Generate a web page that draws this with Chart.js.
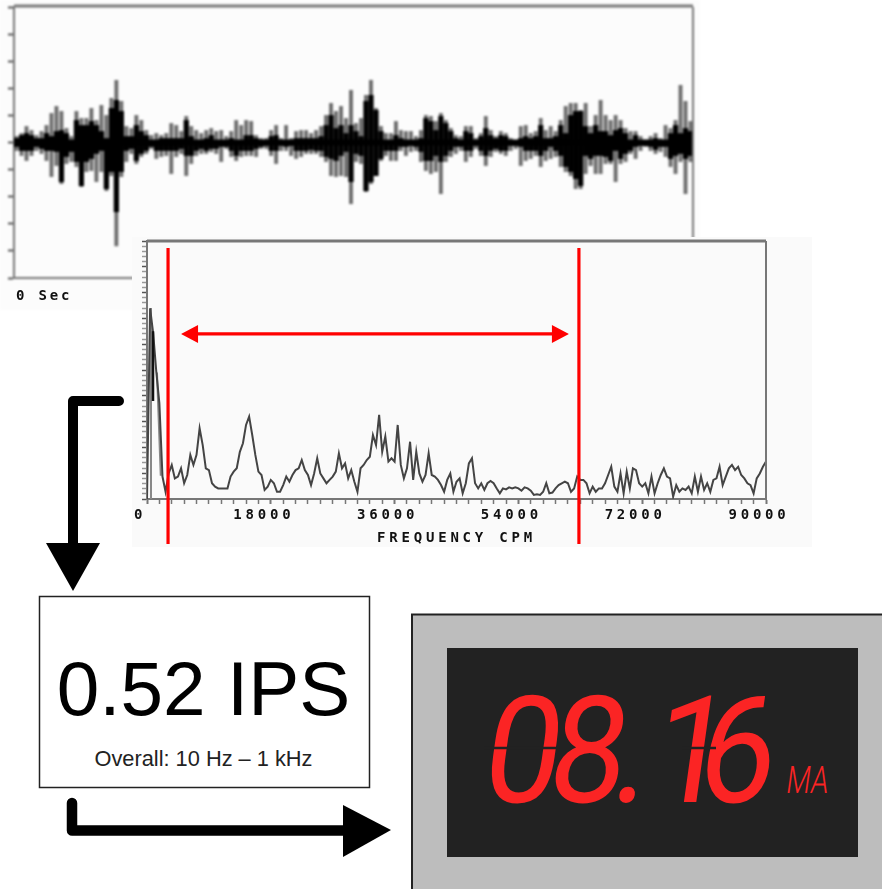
<!DOCTYPE html>
<html>
<head>
<meta charset="utf-8">
<title>Vibration overall to 4-20 mA</title>
<script src="https://cdn.jsdelivr.net/npm/chart.js@4/dist/chart.umd.min.js"></script>
<style>
  html, body { margin: 0; padding: 0; background: #fff; }
  #page { position: relative; width: 882px; height: 889px; overflow: hidden; }
  canvas { position: absolute; display: block; }
  #waveChart { left: 0; top: 0; background: #fcfcfc; filter: blur(0.9px); }
  #spectrumChart { left: 132px; top: 237px; background: #fafafa; filter: blur(0.7px); }
  svg { position: absolute; left: 0; top: 0; }
</style>
</head>
<body>
<div id="page">
  <canvas id="waveChart" width="700" height="310"></canvas>
  <canvas id="spectrumChart" width="680" height="310"></canvas>
  <svg width="882" height="889">
    <text x="16" y="300" font-family="DejaVu Sans Mono" font-weight="bold" font-size="14" letter-spacing="2.8" fill="#111" style="filter:blur(0.7px)">0 Sec</text>

    <path d="M119 401 H73 V548" fill="none" stroke="#000" stroke-width="10" stroke-linecap="round" stroke-linejoin="round"/>
    <polygon points="46,543 100,543 73,591" fill="#000"/>

    <rect x="39.5" y="596.5" width="330" height="191" fill="#fff" stroke="#222" stroke-width="1.5"/>
    <text x="203.5" y="715" text-anchor="middle" font-family="Liberation Sans" font-size="76.5" fill="#000">0.52 IPS</text>
    <text x="203.5" y="766" text-anchor="middle" font-family="Liberation Sans" font-size="21.8" fill="#222">Overall: 10 Hz – 1 kHz</text>

    <path d="M72 803 V830.5 H350" fill="none" stroke="#000" stroke-width="10.5" stroke-linecap="round" stroke-linejoin="round"/>
    <polygon points="343,805 391,830 343,857" fill="#000"/>

    <rect x="412" y="614.5" width="472" height="276" fill="#bdbdbd" stroke="#222" stroke-width="2"/>
    <rect x="447" y="648" width="411" height="209" fill="#222"/>
    <g transform="translate(0,802) skewX(-8) translate(112,0) scale(0.92,1)" fill="#fb2424" font-family="Roboto" font-size="149">
      <text x="399 470 540 582 632" y="0">08.16</text>
    </g>
    <path d="M484 748 H556 M682 748 H716" stroke="#222" stroke-width="2.5"/>
    <text transform="translate(785,793) skewX(-8)" font-family="Roboto" font-weight="300" font-size="38" textLength="42" lengthAdjust="spacingAndGlyphs" fill="#fb2424">MA</text>
  </svg>
</div>
<script>
// Time waveform, every few pixels (outer spikes and dark core)
const waveTopGrey = [6,9,16,12,7,11,17,29,36,31,14,6,31,24,24,34,22,37,27,44,62,41,16,14,27,22,12,7,9,7,9,19,17,11,
  26,16,12,9,12,14,11,12,6,11,22,17,22,21,7,4,4,12,17,4,17,4,11,12,12,9,12,16,27,39,31,36,24,52,
  19,24,47,62,34,16,9,9,21,12,11,11,6,12,27,26,21,29,22,14,7,6,16,16,4,9,26,12,6,11,9,4,2,16,
  17,9,11,24,12,16,11,22,36,39,39,32,39,16,27,42,27,22,27,22,14,11,11,6,2,6,9,4,17,14,22,57,41,21];
const waveTopBlack = [4,7,9,7,4,4,9,6,11,12,9,2,22,17,17,21,17,11,4,34,42,31,6,6,17,11,7,2,2,4,4,4,4,4,
  22,6,2,2,4,7,2,2,1,4,2,2,7,7,4,2,1,6,7,2,2,2,4,4,4,4,4,6,17,27,14,17,9,17,
  11,6,41,47,32,11,2,2,7,4,2,1,2,4,24,21,12,26,19,11,4,2,11,9,2,6,14,7,4,7,6,2,1,4,
  6,4,6,17,4,4,6,17,9,27,31,31,16,9,17,11,11,7,12,14,9,2,7,2,1,2,4,2,2,9,17,9,14,11];
const waveBotBlack = [-4,-8,-8,-8,-4,-6,-8,-8,-9,-39,-14,-9,-19,-43,-19,-16,-11,-8,-46,-29,-69,-29,-8,-6,-18,-11,-8,-4,-8,-8,-8,-8,-8,-6,
  -13,-13,-8,-6,-8,-6,-6,-4,-4,-8,-13,-8,-8,-8,-6,-4,-3,-8,-8,-3,-4,-3,-8,-8,-8,-7,-8,-8,-14,-16,-18,-13,-9,-39,
  -11,-13,-48,-39,-33,-16,-8,-8,-8,-4,-4,-3,-4,-9,-18,-18,-13,-19,-13,-8,-4,-4,-8,-8,-3,-8,-13,-8,-6,-8,-8,-3,-3,-4,
  -8,-8,-8,-13,-8,-4,-8,-13,-24,-29,-36,-43,-13,-16,-13,-13,-14,-18,-8,-16,-11,-8,-4,-3,-3,-4,-7,-4,-4,-16,-13,-11,-16,-13];
const waveBotGrey = [-8,-13,-18,-13,-8,-11,-18,-34,-23,-41,-21,-19,-24,-44,-29,-28,-39,-29,-48,-33,-103,-34,-19,-11,-21,-14,-11,-6,-16,-14,-13,-31,-14,-11,
  -33,-21,-13,-11,-11,-9,-11,-19,-6,-14,-18,-14,-13,-13,-14,-6,-6,-13,-21,-8,-8,-13,-16,-14,-11,-11,-11,-14,-19,-33,-34,-33,-34,-61,
  -19,-21,-49,-41,-33,-18,-13,-18,-18,-8,-13,-9,-8,-19,-28,-31,-29,-51,-19,-14,-11,-8,-19,-14,-6,-13,-23,-14,-9,-11,-13,-8,-6,-23,
  -18,-16,-13,-24,-18,-16,-14,-24,-29,-33,-46,-46,-31,-23,-31,-31,-21,-21,-39,-21,-19,-11,-16,-8,-4,-8,-11,-9,-14,-24,-31,-19,-51,-19];
const waveSamples = waveTopGrey.map((v, i) => i);
const waveTickSample = 13;
const waveCoreLevel = 0;

// Spectrum amplitude every 450 CPM, from 0 to 90000
const spectrumStep = 450;
const spectrumAmp = [0,73.9,64.2,49.4,37.1,8.7,2.8,9.9,13.2,8.0,
  8.7,11.9,6.1,9.3,17.1,13.2,17.1,27.4,20.9,11.9,
  11.2,6.1,4.8,4.1,4.1,4.1,4.1,8.7,10.6,11.9,
  18.3,21.6,28.7,31.9,24.8,17.1,10.6,9.3,3.5,4.8,
  7.4,6.1,2.8,2.8,5.4,8.7,6.7,9.3,11.2,11.9,
  15.1,11.2,9.3,5.4,9.9,15.8,9.9,8.0,6.1,7.4,
  8.7,10.6,17.7,11.9,13.8,8.0,11.2,6.7,2.8,11.9,
  13.2,15.1,16.4,24.8,20.9,32.6,18.3,24.2,14.5,15.8,
  14.5,28.7,13.2,8.0,11.9,22.2,7.4,18.3,9.9,6.7,
  9.3,17.7,9.3,8.7,7.4,5.4,2.8,7.4,9.9,2.8,
  6.7,8.0,2.2,6.1,13.8,15.8,6.1,4.1,6.1,3.5,
  6.1,7.0,6.1,4.1,2.2,4.1,3.7,4.5,4.1,4.5,
  4.1,3.2,4.5,4.1,3.2,1.6,1.8,1.6,2.8,6.1,
  2.2,2.5,4.1,5.4,6.1,6.7,6.1,2.8,4.1,8.7,
  7.4,7.4,6.1,2.2,4.8,2.8,4.1,4.1,6.1,9.3,
  12.5,4.8,2.8,9.9,2.2,10.6,4.1,11.9,11.2,6.1,
  4.8,6.1,2.2,8.7,2.2,6.1,9.3,11.9,8.7,8.0,
  0.9,5.4,2.8,4.1,3.5,4.8,2.2,8.7,2.8,8.7,
  3.5,6.1,2.8,7.4,8.0,12.5,5.4,8.7,11.9,13.2,
  11.2,12.5,9.3,8.0,6.1,5.4,2.2,8.0,9.9,12.5,
  14.5];
// Dark parts of the low frequency spike
const darkCpm = [874, 874, 1600, 1600];
const darkAmp = [65, 38, null, 19];
// Grey stems under the spike
const stemCpm = [580, 580, 1450, 1450, 2000, 2000];
const stemAmp = [74, 0, null, 49, 9, null];
const spectrumTicks = [0, 18000, 36000, 54000, 72000, 90000];
const bandLimits = [3060, 62800];
const bandArrowLevel = 64;

const axisGrey = '#777';

const wavePlugin = {
  id: 'waveFrame',
  afterDraw(chart) {
    const { ctx, chartArea: a } = chart;
    ctx.save();
    ctx.strokeStyle = axisGrey;
    ctx.lineWidth = 3;
    ctx.beginPath();
    ctx.moveTo(a.left, a.top - 1);
    ctx.lineTo(a.right, a.top - 1);
    ctx.stroke();
    ctx.lineWidth = 2;
    ctx.beginPath();
    ctx.moveTo(a.right, a.top);
    ctx.lineTo(a.right, a.bottom);
    ctx.stroke();
    ctx.restore();
  }
};

new Chart(document.getElementById('waveChart'), {
  type: 'bar',
  data: {
    labels: waveSamples,
    datasets: [
      { type: 'line', data: waveSamples.map(() => waveCoreLevel), borderColor: '#000', borderWidth: 6, pointRadius: 0 },
      { data: waveBotBlack.map((lo, i) => [lo, waveTopBlack[i]]), backgroundColor: '#000', barThickness: 4.6 },
      { data: waveBotGrey.map((lo, i) => [lo, waveTopGrey[i]]), backgroundColor: '#6c6c6c', barThickness: 3.2 }
    ]
  },
  options: {
    responsive: false,
    animation: false,
    layout: { padding: { top: 7, right: 7 } },
    plugins: { legend: { display: false }, tooltip: { enabled: false } },
    scales: {
      x: {
        afterBuildTicks: s => { s.ticks = s.ticks.filter(t => t.value === waveTickSample); },
        afterFit: s => { s.height = 32; },
        grid: { drawOnChartArea: false, tickLength: 5, tickColor: '#555', tickWidth: 2 },
        border: { color: axisGrey, width: 2 },
        ticks: { display: false }
      },
      y: {
        min: -135,
        max: 135,
        afterFit: s => { s.width = 14; },
        grid: { drawOnChartArea: false, tickLength: 6, tickColor: '#555', tickWidth: 2 },
        border: { color: axisGrey, width: 2 },
        ticks: { display: false, stepSize: 27 }
      }
    },
    datasets: { bar: { grouped: false } }
  },
  plugins: [wavePlugin]
});

const spectrumPlugin = {
  id: 'spectrumMarks',
  beforeDraw(chart) {
    chart.ctx.letterSpacing = '3.8px';
  },
  afterDraw(chart) {
    const { ctx, chartArea: a, scales } = chart;
    ctx.save();
    ctx.strokeStyle = axisGrey;
    ctx.lineWidth = 3;
    ctx.beginPath();
    ctx.moveTo(a.left, a.top);
    ctx.lineTo(a.right, a.top);
    ctx.stroke();
    ctx.lineWidth = 2;
    ctx.beginPath();
    ctx.moveTo(a.right, a.top);
    ctx.lineTo(a.right, a.bottom);
    ctx.stroke();

    // band limits and the arrow between them
    const x1 = scales.x.getPixelForValue(bandLimits[0]);
    const x2 = scales.x.getPixelForValue(bandLimits[1]);
    const yArrow = scales.y.getPixelForValue(bandArrowLevel);
    ctx.strokeStyle = '#f00';
    ctx.fillStyle = '#f00';
    ctx.lineWidth = 3.2;
    ctx.beginPath();
    ctx.moveTo(x1, 11);
    ctx.lineTo(x1, 307);
    ctx.moveTo(x2, 11);
    ctx.lineTo(x2, 307);
    ctx.moveTo(x1 + 25, yArrow);
    ctx.lineTo(x2 - 22, yArrow);
    ctx.stroke();
    ctx.beginPath();
    ctx.moveTo(x1 + 13, yArrow);
    ctx.lineTo(x1 + 30, yArrow - 9);
    ctx.lineTo(x1 + 30, yArrow + 9);
    ctx.closePath();
    ctx.moveTo(x2 - 10, yArrow);
    ctx.lineTo(x2 - 27, yArrow - 9);
    ctx.lineTo(x2 - 27, yArrow + 9);
    ctx.closePath();
    ctx.fill();
    ctx.restore();
  }
};

new Chart(document.getElementById('spectrumChart'), {
  type: 'line',
  data: {
    datasets: [
      {
        data: darkCpm.map((x, i) => ({ x, y: darkAmp[i] })),
        borderColor: '#111',
        borderWidth: 2.5,
        pointRadius: 0,
        spanGaps: false
      },
      {
        data: spectrumAmp.map((y, i) => ({ x: i * spectrumStep, y })),
        borderColor: '#444',
        borderWidth: 2,
        pointRadius: 0,
        tension: 0
      },
      {
        data: stemCpm.map((x, i) => ({ x, y: stemAmp[i] })),
        borderColor: '#888',
        borderWidth: 2,
        pointRadius: 0,
        spanGaps: false
      }
    ]
  },
  options: {
    responsive: false,
    animation: false,
    parsing: false,
    layout: { padding: { top: 4, right: 46 } },
    plugins: { legend: { display: false }, tooltip: { enabled: false } },
    scales: {
      x: {
        type: 'linear',
        min: 0,
        max: 90000,
        afterFit: s => { s.height = 48; },
        grid: {
          drawOnChartArea: false,
          tickLength: 5,
          tickColor: axisGrey,
          tickWidth: c => (spectrumTicks.includes(c.tick.value) ? 2 : 1.5)
        },
        border: { color: axisGrey, width: 2 },
        title: {
          display: true,
          text: 'FREQUENCY CPM',
          color: '#111',
          font: { family: 'DejaVu Sans Mono', weight: 'bold', size: 14 },
          padding: { top: 7, bottom: 0 }
        },
        ticks: {
          stepSize: 1800,
          autoSkip: false,
          maxRotation: 0,
          labelOffset: -7,
          padding: 3,
          color: '#111',
          font: { family: 'DejaVu Sans Mono', weight: 'bold', size: 14 },
          callback: v => (spectrumTicks.includes(v) ? String(v) : '')
        }
      },
      y: {
        min: 0,
        max: 100,
        afterFit: s => { s.width = 15; },
        grid: {
          drawOnChartArea: false,
          tickLength: 5,
          tickColor: c => (c.tick.value % 10 === 0 ? '#555' : '#999'),
          tickWidth: 1.5
        },
        border: { color: axisGrey, width: 2 },
        ticks: { display: false, stepSize: 2, autoSkip: false }
      }
    }
  },
  plugins: [spectrumPlugin]
});
</script>
</body>
</html>
